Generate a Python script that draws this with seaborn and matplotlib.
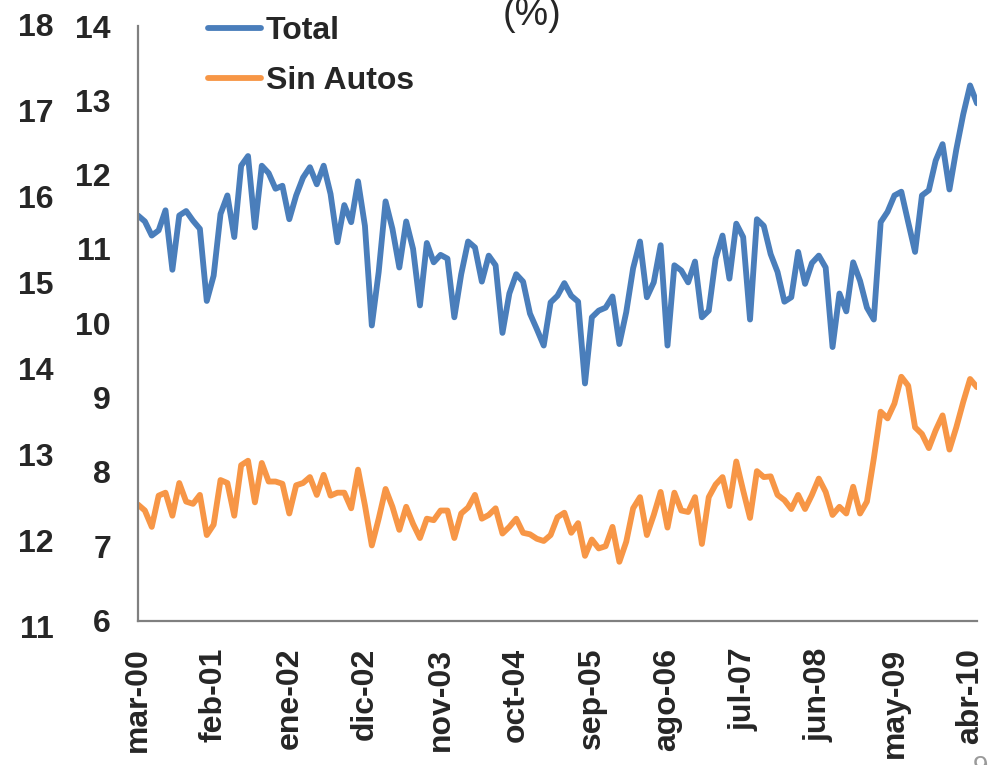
import numpy as np
import pandas as pd
import matplotlib.pyplot as plt
import seaborn as sns

# monthly series, mar-00 .. may-10 (%)
total = [11.45, 11.37, 11.18, 11.25, 11.52, 10.72, 11.45, 11.51, 11.38, 11.27,
         10.30, 10.64, 11.47, 11.72, 11.16, 12.12, 12.25, 11.29, 12.12, 12.02,
         11.81, 11.85, 11.40, 11.72, 11.96, 12.10, 11.87, 12.12, 11.74, 11.09,
         11.59, 11.36, 11.91, 11.31, 9.97, 10.69, 11.64, 11.27, 10.75, 11.37,
         11.00, 10.24, 11.08, 10.82, 10.92, 10.87, 10.08, 10.66, 11.10, 11.02,
         10.56, 10.91, 10.78, 9.87, 10.40, 10.66, 10.56, 10.13, 9.92, 9.70,
         10.28, 10.37, 10.54, 10.37, 10.29, 9.19, 10.08, 10.17, 10.21, 10.36,
         9.72, 10.15, 10.74, 11.10, 10.35, 10.55, 11.05, 9.70, 10.78, 10.71,
         10.55, 10.83, 10.08, 10.17, 10.87, 11.18, 10.60, 11.34, 11.16, 10.05,
         11.40, 11.31, 10.93, 10.69, 10.29, 10.35, 10.96, 10.53, 10.81, 10.91,
         10.75, 9.68, 10.40, 10.16, 10.82, 10.57, 10.21, 10.05, 11.36, 11.50,
         11.72, 11.77, 11.36, 10.96, 11.72, 11.79, 12.19, 12.41, 11.80, 12.34,
         12.81, 13.20, 12.96]

sin_autos = [7.56, 7.48, 7.26, 7.68, 7.72, 7.41, 7.85, 7.60, 7.57, 7.69,
             7.15, 7.29, 7.89, 7.85, 7.41, 8.09, 8.15, 7.59, 8.12, 7.87,
             7.87, 7.84, 7.44, 7.82, 7.85, 7.93, 7.69, 7.96, 7.68, 7.72,
             7.72, 7.51, 8.03, 7.55, 7.01, 7.37, 7.77, 7.53, 7.22, 7.53,
             7.30, 7.11, 7.37, 7.35, 7.48, 7.48, 7.11, 7.44, 7.52, 7.69,
             7.37, 7.42, 7.51, 7.17, 7.26, 7.37, 7.18, 7.16, 7.10, 7.07,
             7.15, 7.39, 7.45, 7.18, 7.31, 6.87, 7.09, 6.97, 7.00, 7.26,
             6.79, 7.06, 7.51, 7.66, 7.15, 7.42, 7.73, 7.25, 7.72, 7.48,
             7.46, 7.66, 7.03, 7.66, 7.83, 7.93, 7.54, 8.14, 7.75, 7.38,
             8.01, 7.93, 7.94, 7.69, 7.62, 7.50, 7.69, 7.50, 7.69, 7.91,
             7.73, 7.42, 7.53, 7.44, 7.80, 7.44, 7.60, 8.18, 8.81, 8.72,
             8.92, 9.28, 9.16, 8.60, 8.51, 8.32, 8.56, 8.76, 8.30, 8.60,
             8.94, 9.25, 9.14]

tick_labels = ['mar-00', 'feb-01', 'ene-02', 'dic-02', 'nov-03', 'oct-04',
               'sep-05', 'ago-06', 'jul-07', 'jun-08', 'may-09', 'abr-10']
tick_step = 11
outer_labels = [11, 12, 13, 14, 15, 16, 17, 18]

df = pd.DataFrame({'mes': np.arange(len(total)), 'Total': total, 'Sin Autos': sin_autos})

sns.set_style('white')
plt.rcParams['font.family'] = ['Liberation Sans', 'DejaVu Sans']
FS = 23

W, H = 1007, 765
fig = plt.figure(figsize=(W / 100, H / 100), dpi=100)

# outer (cut-off) scale on the far left
ax_out = fig.add_axes([54 / W, 1 - 627 / H, 0.01, (627 - 25) / H])
ax_out.set_ylim(11, 18)
ax_out.set_yticks(outer_labels)
ax_out.set_xticks([])
ax_out.tick_params(axis='y', length=0, pad=0, labelsize=FS)
for lab in ax_out.get_yticklabels():
    lab.set_fontweight('bold')
for s in ax_out.spines.values():
    s.set_visible(False)
ax_out.patch.set_visible(False)

ax = fig.add_axes([138 / W, 1 - 620.5 / H, (977.3 - 138) / W, (620.5 - 26) / H])
sns.lineplot(data=df, x='mes', y='Total', ax=ax, color='#4A7EBB', linewidth=4.2, label='Total')
sns.lineplot(data=df, x='mes', y='Sin Autos', ax=ax, color='#F79646', linewidth=4.2, label='Sin Autos')

ax.set_xlim(0, 122.05)
ax.set_ylim(6, 14)
ax.set_yticks(range(6, 15))
ax.set_xticks(range(0, tick_step * len(tick_labels), tick_step))
ax.set_xticklabels(tick_labels, rotation=90, fontweight='bold', fontsize=FS)
for lab in ax.get_yticklabels():
    lab.set_fontweight('bold')
    lab.set_fontsize(FS)
ax.set_xlabel('')
ax.set_ylabel('')
ax.tick_params(axis='both', direction='out', length=6.5, width=1.5, color='#808080')
ax.tick_params(axis='y', pad=13)
ax.tick_params(axis='x', pad=13)
for side in ['top', 'right']:
    ax.spines[side].set_visible(False)
for side in ['left', 'bottom']:
    ax.spines[side].set_color('#808080')
    ax.spines[side].set_linewidth(1.6)

leg = ax.legend(loc='upper left', bbox_to_anchor=(208 / W, 1 - 16 / H), bbox_transform=fig.transFigure,
                frameon=False, fontsize=FS, handlelength=1.65, handletextpad=0.15,
                labelspacing=0.63, borderpad=0, borderaxespad=0)
for t in leg.get_texts():
    t.set_fontweight('bold')

# cut-off title and page number
fig.text(532 / W, 1 - 15 / H, '(%)', ha='center', va='center', fontsize=27)
fig.text(980 / W, 1 - 755 / H, '9', ha='center', va='top', fontsize=20, color='#9a9a9a')

fig.savefig('out.png', dpi=100)
